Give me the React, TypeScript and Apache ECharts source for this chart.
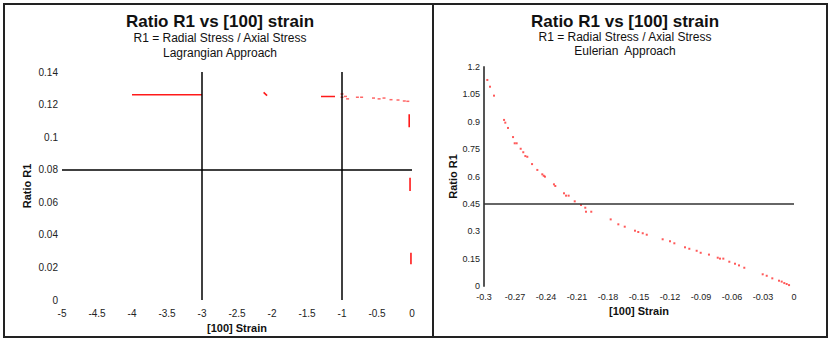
import React, { useEffect, useRef } from "react";
import * as echarts from "echarts";

// ---------- Data ----------
const titleText = "Ratio R1 vs [100] strain";
const subtitleText = "R1 = Radial Stress / Axial Stress";
const lagApproach = "Lagrangian Approach";
const eulApproach = "Eulerian  Approach";
const xName = "[100] Strain";
const yName = "Ratio R1";

// Lagrangian panel (left)
const lagPlateau = [[-4, 0.126], [-3, 0.126]];
const lagShortA = [[-2.12, 0.1275], [-2.07, 0.1255]];
const lagShortB = [[-1.3, 0.125], [-1.1, 0.125]];
const lagTail = [
  [-1.0, 0.1265], [-1.0, 0.1245], [-0.95, 0.125], [-0.92, 0.1235],
  [-0.78, 0.1245], [-0.72, 0.1245], [-0.55, 0.124], [-0.47, 0.1235],
  [-0.4, 0.124], [-0.3, 0.123], [-0.2, 0.1228], [-0.11, 0.1222], [-0.06, 0.122],
];
const lagDropA = [[-0.04, 0.114], [-0.04, 0.106]];
const lagDropB = [[-0.028, 0.075], [-0.028, 0.067]];
const lagDropC = [[-0.015, 0.029], [-0.015, 0.022]];
const lagRefX = [-3, -1];
const lagRefY = [0.08];

// Eulerian panel (right)
const eulStrain = [
  -0.2968, -0.2942, -0.2903, -0.2806, -0.2794, -0.2768, -0.2719, -0.2703, -0.2684,
  -0.2645, -0.262, -0.26, -0.2581, -0.2535, -0.2484, -0.2436, -0.2422, -0.241,
  -0.2323, -0.231, -0.2226, -0.2206, -0.2181, -0.2122, -0.2061, -0.202, -0.2013,
  -0.1962, -0.1774, -0.17, -0.1638, -0.1539, -0.1507, -0.1464, -0.1425, -0.1271,
  -0.12, -0.1158, -0.1055, -0.1013, -0.0942, -0.0903, -0.0823, -0.0738, -0.0716,
  -0.0684, -0.0626, -0.0571, -0.0532, -0.0481, -0.0303, -0.0264, -0.021, -0.0145,
  -0.0119, -0.0094, -0.0071, -0.0048,
];
const eulRatio = [
  1.129, 1.092, 1.043, 0.91, 0.895, 0.866, 0.816, 0.782, 0.782,
  0.752, 0.733, 0.712, 0.708, 0.668, 0.636, 0.612, 0.604, 0.599,
  0.557, 0.548, 0.508, 0.495, 0.495, 0.464, 0.444, 0.429, 0.407,
  0.407, 0.365, 0.338, 0.325, 0.303, 0.296, 0.289, 0.281, 0.256,
  0.245, 0.234, 0.212, 0.204, 0.193, 0.182, 0.172, 0.155, 0.15,
  0.15, 0.133, 0.122, 0.113, 0.1, 0.064, 0.056, 0.042, 0.029,
  0.024, 0.016, 0.011, 0.005,
];
const eulRefY = [0.45];

const FONT = "Liberation Sans, Arial, sans-serif";

export default function App() {
  const ref = useRef<HTMLDivElement>(null);

  useEffect(() => {
    if (!ref.current) return;
    const chart = echarts.init(ref.current, undefined, { renderer: "svg" });

    const redLine = (data: number[][], xi = 0) => ({
      type: "line",
      xAxisIndex: xi,
      yAxisIndex: xi,
      data,
      symbol: "none",
      lineStyle: { color: "#ff1a1a", width: 1.6 },
      silent: true,
    });

    const axisLabel = {
      color: "#222",
      fontSize: 10,
      fontFamily: FONT,
      showMinLabel: true,
      showMaxLabel: true,
    };
    const nameStyle = {
      color: "#111",
      fontSize: 11,
      fontWeight: "bold",
      fontFamily: FONT,
    };

    const option: any = {
      animation: false,
      backgroundColor: "#fff",
      textStyle: { fontFamily: FONT },
      grid: [
        { left: 62, right: 418, top: 72, bottom: 39 },
        { left: 484, right: 36, top: 67, bottom: 53 },
      ],
      xAxis: [
        {
          gridIndex: 0,
          type: "value",
          min: -5,
          max: 0,
          interval: 0.5,
          axisLine: { show: false },
          axisTick: { show: false },
          splitLine: { show: false },
          axisLabel: { ...axisLabel, margin: 8 },
          name: xName,
          nameLocation: "middle",
          nameGap: 21,
          nameTextStyle: nameStyle,
        },
        {
          gridIndex: 1,
          type: "value",
          min: -0.3,
          max: 0,
          interval: 0.03,
          axisLine: { show: false, onZero: false },
          axisTick: { show: false },
          splitLine: { show: false },
          axisLabel: { ...axisLabel, margin: 6, fontSize: 9 },
          name: xName,
          nameLocation: "middle",
          nameGap: 18,
          nameTextStyle: nameStyle,
        },
      ],
      yAxis: [
        {
          gridIndex: 0,
          type: "value",
          min: 0,
          max: 0.14,
          interval: 0.02,
          axisLine: { show: false, onZero: false },
          axisTick: { show: false },
          splitLine: { show: false },
          axisLabel: { ...axisLabel, margin: 4 },
          name: yName,
          nameLocation: "middle",
          nameGap: 30,
          nameTextStyle: nameStyle,
        },
        {
          gridIndex: 1,
          type: "value",
          min: 0,
          max: 1.2,
          interval: 0.15,
          axisLine: { show: true, onZero: false, lineStyle: { color: "#555", width: 2 } },
          axisTick: { show: false },
          splitLine: { show: false },
          axisLabel: { ...axisLabel, margin: 4, fontSize: 9 },
          name: yName,
          nameLocation: "middle",
          nameGap: 26,
          nameTextStyle: nameStyle,
        },
      ],
      series: [
        {
          type: "line",
          xAxisIndex: 0,
          yAxisIndex: 0,
          data: [],
          silent: true,
          markLine: {
            silent: true,
            symbol: "none",
            label: { show: false },
            lineStyle: { color: "#000", width: 1.5, type: "solid" },
            data: [
              ...lagRefX.map((v) => ({ xAxis: v })),
              ...lagRefY.map((v) => ({ yAxis: v })),
            ],
          },
        },
        redLine(lagPlateau),
        redLine(lagShortA),
        redLine(lagShortB),
        redLine(lagDropA),
        redLine(lagDropB),
        redLine(lagDropC),
        {
          type: "scatter",
          xAxisIndex: 0,
          yAxisIndex: 0,
          data: lagTail,
          symbol: "rect",
          symbolSize: [3, 1.5],
          itemStyle: { color: "#ff4040" },
          silent: true,
        },
        {
          type: "line",
          xAxisIndex: 1,
          yAxisIndex: 1,
          data: [],
          silent: true,
          markLine: {
            silent: true,
            symbol: "none",
            label: { show: false },
            lineStyle: { color: "#333", width: 1.5, type: "solid" },
            data: eulRefY.map((v) => ({ yAxis: v })),
          },
        },
        {
          type: "scatter",
          xAxisIndex: 1,
          yAxisIndex: 1,
          data: eulStrain.map((x, i) => [x, eulRatio[i]]),
          symbol: "rect",
          symbolSize: 2,
          itemStyle: { color: "#ff3030" },
          silent: true,
        },
      ],
      graphic: [
        {
          type: "rect",
          shape: { x: 4, y: 4, width: 823, height: 333 },
          style: { fill: "none", stroke: "#222", lineWidth: 2 },
          silent: true,
        },
        {
          type: "line",
          shape: { x1: 433, y1: 4, x2: 433, y2: 337 },
          style: { stroke: "#222", lineWidth: 2 },
          silent: true,
        },
        ...[
          { cx: 220, approach: lagApproach, y3: 53, y2: 38 },
          { cx: 625, approach: eulApproach, y3: 51, y2: 37 },
        ].flatMap((p) => [
          {
            type: "text",
            x: p.cx,
            y: 21,
            style: {
              text: titleText,
              fill: "#111",
              font: `bold 17px ${FONT}`,
              align: "center",
              verticalAlign: "middle",
            },
          },
          {
            type: "text",
            x: p.cx,
            y: p.y2,
            style: {
              text: subtitleText,
              fill: "#111",
              font: `12px ${FONT}`,
              align: "center",
              verticalAlign: "middle",
            },
          },
          {
            type: "text",
            x: p.cx,
            y: p.y3,
            style: {
              text: p.approach,
              fill: "#111",
              font: `12px ${FONT}`,
              align: "center",
              verticalAlign: "middle",
            },
          },
        ]),
      ],
    };

    chart.setOption(option);
    return () => chart.dispose();
  }, []);

  return (
    <div
      ref={ref}
      style={{ position: "fixed", left: 0, top: 0, width: 830, height: 339, background: "#fff" }}
    />
  );
}
